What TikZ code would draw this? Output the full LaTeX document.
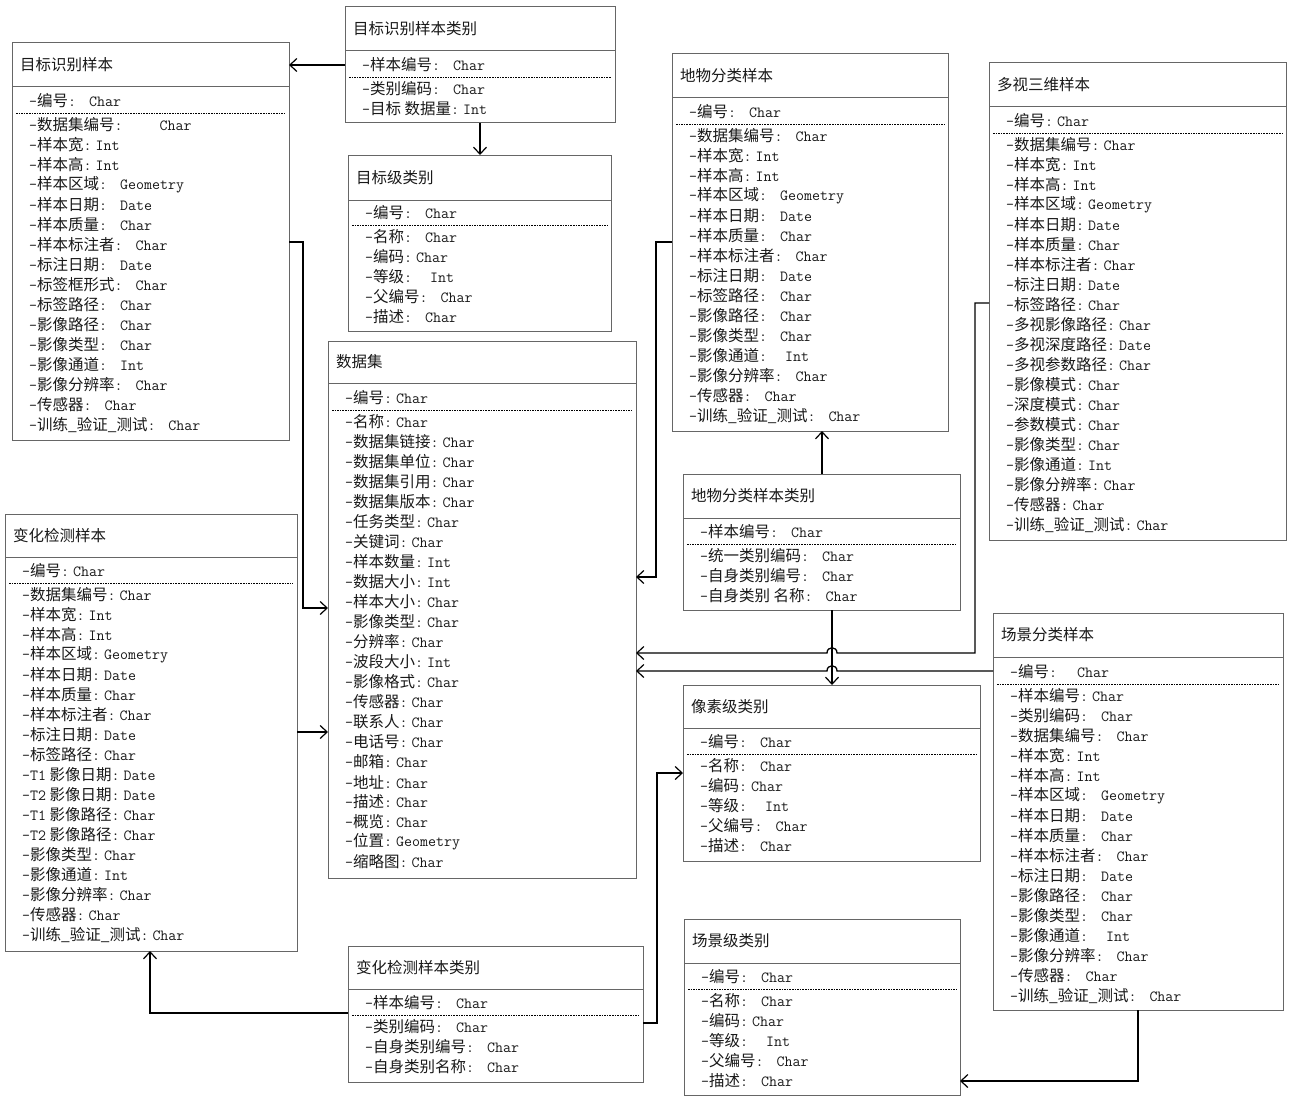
\documentclass[tikz,border=0pt]{standalone}
\usepackage{fontspec}
\setmainfont{Noto Sans CJK SC}
\usetikzlibrary{arrows.meta}
\newcommand\mtt{\ttfamily}
\newcommand\fa[2]{{\mtt-}#1\makebox[12pt][l]{\mtt:}{\mtt #2}}
\newcommand\fb[2]{{\mtt-}#1\makebox[21pt][l]{\mtt:}{\mtt #2}}
\newcommand\fx[3]{{\mtt-}#2\makebox[#1][l]{\mtt:}{\mtt #3}}
\newcommand\ubox[7]{%
  \node[box,minimum width=#4pt,minimum height=#5pt] (#1) at (#2,#3) {};
  \draw[sepl] (#2,#6) -- ({#2+#4},#6);
  \node[ttl] at ({#2+8},{(#3+#6)/2}) {#7};
}
\newcommand\ufl[5]{%
  \node[fl] at ({#1+17},#3) {#4};
  \draw[dl] ({#1+4},{#3+12}) -- ({#2-4},{#3+12});
  \foreach \tt@x [count=\rr from 0] in {#5} {\node[fl] at ({#1+17},{#3+24+20*\rr}) {\tt@x};}
}
\makeatletter
\renewcommand\ufl[5]{%
  \node[fl] at ({#1+17},#3) {#4};
  \draw[dl] ({#1+4},{#3+12}) -- ({#2-4},{#3+12});
  \foreach \ftext [count=\rr from 0] in {#5} {\node[fl] at ({#1+17},{#3+24+20*\rr}) {\ftext};}
}
\makeatother
\begin{document}
\begin{tikzpicture}[x=1pt,y=-1pt,
  font=\fontsize{15.5}{18}\selectfont,
  box/.style={draw=black!60,line width=1pt,anchor=north west,inner sep=0pt,outer sep=0pt,fill=white},
  sepl/.style={draw=black!60,line width=1pt},
  dl/.style={draw=black,line width=0.7pt,dash pattern=on 1.6pt off 1pt},
  ttl/.style={anchor=west,inner sep=0pt,text=black!90},
  fl/.style={anchor=west,inner sep=0pt,text=black!90},
  conn/.style={draw=black,line width=1.3pt},
  arr/.style={conn,-{Straight Barb[length=7pt,width=13pt,line width=1.2pt]}}]
\useasboundingbox[fill=white] (0,0) rectangle (1289,1097);

% boxes
\ubox{b1}{12}{43}{277}{397}{87}{目标识别样本}
\ufl{12}{289}{101}{\fb{编号}{Char}}{{\fx{45pt}{数据集编号}{Char}},{\fa{样本宽}{Int}},{\fa{样本高}{Int}},{\fb{样本区域}{Geometry}},{\fb{样本日期}{Date}},{\fb{样本质量}{Char}},{\fb{样本标注者}{Char}},{\fb{标注日期}{Date}},{\fb{标签框形式}{Char}},{\fb{标签路径}{Char}},{\fb{影像路径}{Char}},{\fb{影像类型}{Char}},{\fb{影像通道}{Int}},{\fb{影像分辨率}{Char}},{\fb{传感器}{Char}},{\fb{训练\_验证\_测试}{Char}}}

\ubox{b2}{345}{7}{270}{116}{51}{目标识别样本类别}
\ufl{345}{615}{65}{\fb{样本编号}{Char}}{{\fb{类别编码}{Char}},{\fa{目标 数据量}{Int}}}

\ubox{b3}{348}{155}{263}{176}{200}{目标级类别}
\ufl{348}{611}{213}{\fb{编号}{Char}}{{\fb{名称}{Char}},{\fa{编码}{Char}},{\fx{26pt}{等级}{Int}},{\fb{父编号}{Char}},{\fb{描述}{Char}}}

\ubox{b4}{672}{54}{276}{377}{98}{地物分类样本}
\ufl{672}{948}{112}{\fb{编号}{Char}}{{\fb{数据集编号}{Char}},{\fa{样本宽}{Int}},{\fa{样本高}{Int}},{\fb{样本区域}{Geometry}},{\fb{样本日期}{Date}},{\fb{样本质量}{Char}},{\fb{样本标注者}{Char}},{\fb{标注日期}{Date}},{\fb{标签路径}{Char}},{\fb{影像路径}{Char}},{\fb{影像类型}{Char}},{\fx{26pt}{影像通道}{Int}},{\fb{影像分辨率}{Char}},{\fb{传感器}{Char}},{\fb{训练\_验证\_测试}{Char}}}

\ubox{b5}{989}{63}{297}{477}{107}{多视三维样本}
\ufl{989}{1286}{121}{\fa{编号}{Char}}{{\fa{数据集编号}{Char}},{\fa{样本宽}{Int}},{\fa{样本高}{Int}},{\fa{样本区域}{Geometry}},{\fa{样本日期}{Date}},{\fa{样本质量}{Char}},{\fa{样本标注者}{Char}},{\fa{标注日期}{Date}},{\fa{标签路径}{Char}},{\fa{多视影像路径}{Char}},{\fa{多视深度路径}{Date}},{\fa{多视参数路径}{Char}},{\fa{影像模式}{Char}},{\fa{深度模式}{Char}},{\fa{参数模式}{Char}},{\fa{影像类型}{Char}},{\fa{影像通道}{Int}},{\fa{影像分辨率}{Char}},{\fa{传感器}{Char}},{\fa{训练\_验证\_测试}{Char}}}

\ubox{b6}{5}{514}{292}{437}{557}{变化检测样本}
\ufl{5}{297}{571}{\fa{编号}{Char}}{{\fa{数据集编号}{Char}},{\fa{样本宽}{Int}},{\fa{样本高}{Int}},{\fa{样本区域}{Geometry}},{\fa{样本日期}{Date}},{\fa{样本质量}{Char}},{\fa{样本标注者}{Char}},{\fa{标注日期}{Date}},{\fa{标签路径}{Char}},{\fa{{\mtt T1} 影像日期}{Date}},{\fa{{\mtt T2} 影像日期}{Date}},{\fa{{\mtt T1} 影像路径}{Char}},{\fa{{\mtt T2} 影像路径}{Char}},{\fa{影像类型}{Char}},{\fa{影像通道}{Int}},{\fa{影像分辨率}{Char}},{\fa{传感器}{Char}},{\fa{训练\_验证\_测试}{Char}}}

\ubox{b7}{328}{341}{308}{537}{383}{数据集}
\ufl{328}{636}{398}{\fa{编号}{Char}}{{\fa{名称}{Char}},{\fa{数据集链接}{Char}},{\fa{数据集单位}{Char}},{\fa{数据集引用}{Char}},{\fa{数据集版本}{Char}},{\fa{任务类型}{Char}},{\fa{关键词}{Char}},{\fa{样本数量}{Int}},{\fa{数据大小}{Int}},{\fa{样本大小}{Char}},{\fa{影像类型}{Char}},{\fa{分辨率}{Char}},{\fa{波段大小}{Int}},{\fa{影像格式}{Char}},{\fa{传感器}{Char}},{\fa{联系人}{Char}},{\fa{电话号}{Char}},{\fa{邮箱}{Char}},{\fa{地址}{Char}},{\fa{描述}{Char}},{\fa{概览}{Char}},{\fa{位置}{Geometry}},{\fa{缩略图}{Char}}}

\ubox{b8}{683}{474}{277}{136}{518}{地物分类样本类别}
\ufl{683}{960}{532}{\fb{样本编号}{Char}}{{\fb{统一类别编码}{Char}},{\fb{自身类别编号}{Char}},{\fb{自身类别 名称}{Char}}}

\ubox{b9}{683}{685}{297}{176}{728}{像素级类别}
\ufl{683}{980}{742}{\fb{编号}{Char}}{{\fb{名称}{Char}},{\fa{编码}{Char}},{\fx{26pt}{等级}{Int}},{\fb{父编号}{Char}},{\fb{描述}{Char}}}

\ubox{b10}{993}{613}{290}{397}{657}{场景分类样本}
\ufl{993}{1283}{672}{\fx{28pt}{编号}{Char}}{{\fa{样本编号}{Char}},{\fb{类别编码}{Char}},{\fb{数据集编号}{Char}},{\fa{样本宽}{Int}},{\fa{样本高}{Int}},{\fb{样本区域}{Geometry}},{\fb{样本日期}{Date}},{\fb{样本质量}{Char}},{\fb{样本标注者}{Char}},{\fb{标注日期}{Date}},{\fb{影像路径}{Char}},{\fb{影像类型}{Char}},{\fx{26pt}{影像通道}{Int}},{\fb{影像分辨率}{Char}},{\fb{传感器}{Char}},{\fb{训练\_验证\_测试}{Char}}}

\ubox{b11}{348}{946}{295}{136}{989}{变化检测样本类别}
\ufl{348}{643}{1003}{\fb{样本编号}{Char}}{{\fb{类别编码}{Char}},{\fb{自身类别编号}{Char}},{\fb{自身类别名称}{Char}}}

\ubox{b12}{684}{919}{276}{176}{963}{场景级类别}
\ufl{684}{960}{977}{\fb{编号}{Char}}{{\fb{名称}{Char}},{\fa{编码}{Char}},{\fx{26pt}{等级}{Int}},{\fb{父编号}{Char}},{\fb{描述}{Char}}}

% connectors
\draw[arr] (b2.west |- 0,65) -- (b1.east |- 0,65);
\draw[arr] (b2.south -| 480,0) -- (b3.north -| 480,0);
\draw[arr] (b1.east |- 0,242) -- (303,242) -- (303,608) -- (b7.west |- 0,608);
\draw[arr] (b6.east |- 0,732) -- (b7.west |- 0,732);
\draw[arr] (b4.west |- 0,242) -- (656,242) -- (656,577) -- (b7.east |- 0,577);
\draw[arr] (b8.north -| 822,0) -- (b4.south -| 822,0);
\draw[arr] (b8.south -| 832,0) -- (b9.north -| 832,0);
\draw[arr] (b5.west |- 0,303) -- (975,303) -- (975,653) -- (837,653) .. controls (837,646) and (827,646) .. (827,653) -- (b7.east |- 0,653);
\draw[arr] (b10.west |- 0,671) -- (837,671) .. controls (837,664) and (827,664) .. (827,671) -- (b7.east |- 0,671);
\draw[arr] (b11.east |- 0,1023) -- (657,1023) -- (657,773) -- (b9.west |- 0,773);
\draw[arr] (b11.west |- 0,1013) -- (150,1013) -- (b6.south -| 150,0);
\draw[arr] (b10.south -| 1138,0) -- (1138,1081) -- (b12.east |- 0,1081);
\end{tikzpicture}
\end{document}
